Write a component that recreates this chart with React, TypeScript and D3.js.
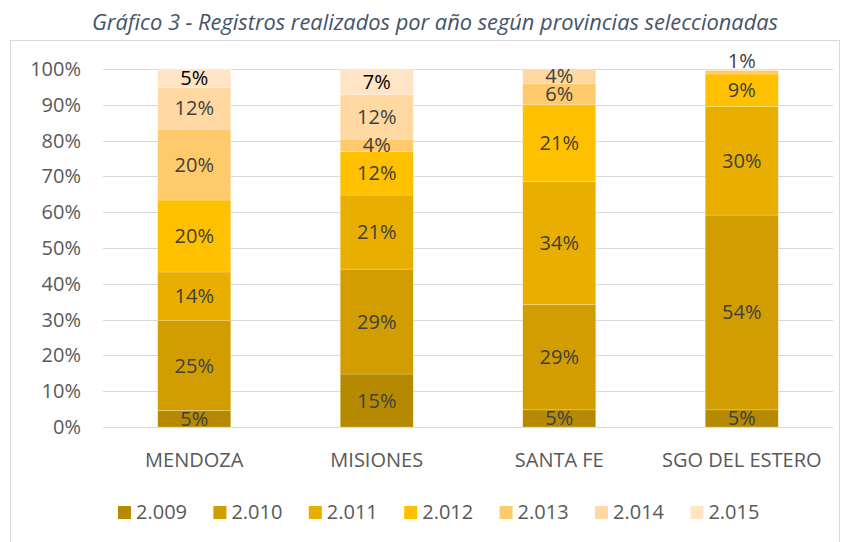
import React, { useRef, useEffect } from "react";
import * as d3 from "d3";

// provincias
const provinces = ["MENDOZA", "MISIONES", "SANTA FE", "SGO DEL ESTERO"];
const years = ["2.009", "2.010", "2.011", "2.012", "2.013", "2.014", "2.015"];

// share (%) per year, one array per province (2.009 -> 2.015)
const mendoza = [4.6, 25.1, 13.6, 20.1, 19.8, 11.6, 5.2];
const misiones = [14.8, 29.3, 20.7, 12.1, 3.5, 12.4, 7.2];
const santaFe = [4.8, 29.4, 34.4, 21.4, 6.0, 4.0, 0];
const sgoDelEstero = [4.8, 54.4, 30.3, 9.1, 1.0, 0.4, 0];

const yTicks = [0, 10, 20, 30, 40, 50, 60, 70, 80, 90, 100];
const colors = ["#B68A00", "#D19D00", "#E9AF00", "#FFC000", "#FFCA6C", "#FFD9A1", "#FFE5C6"];

const App = () => {
  const ref = useRef<SVGSVGElement | null>(null);

  useEffect(() => {
    if (!ref.current) return;
    const svg = d3.select(ref.current);
    svg.selectAll("*").remove();

    const font = "'Open Sans', sans-serif";
    const fs = "20px";
    const rows = [mendoza, misiones, santaFe, sgoDelEstero].map((vals, i) => {
      const r: any = { name: provinces[i] };
      years.forEach((y, j) => (r[y] = vals[j]));
      return r;
    });

    const margin = { top: 69, left: 103, right: 15, bottom: 115 };
    const width = 848 - margin.left - margin.right;
    const height = 542 - margin.top - margin.bottom;

    // chart frame
    svg
      .append("rect")
      .attr("x", 10.5)
      .attr("y", 40.5)
      .attr("width", 829)
      .attr("height", 540)
      .attr("fill", "#fff")
      .attr("stroke", "#D9D9D9");

    // title
    svg
      .append("text")
      .attr("x", 435)
      .attr("y", 30)
      .attr("text-anchor", "middle")
      .style("font-family", font)
      .style("font-style", "italic")
      .style("font-size", "22px")
      .attr("fill", "#44546A")
      .attr("textLength", 686)
      .attr("lengthAdjust", "spacingAndGlyphs")
      .text("Gráfico 3 - Registros realizados por año según provincias seleccionadas");

    const chart = svg
      .append("g")
      .attr("transform", `translate(${margin.left},${margin.top})`);

    const x = d3.scaleBand().domain(provinces).range([0, width]).paddingInner(0.6).paddingOuter(0.3);
    const y = d3.scaleLinear().domain([0, 100]).range([height, 0]);

    // gridlines
    chart
      .selectAll(".grid")
      .data(yTicks)
      .enter()
      .append("line")
      .attr("x1", 0)
      .attr("x2", width)
      .attr("y1", (d) => Math.round(y(d)) + 0.5)
      .attr("y2", (d) => Math.round(y(d)) + 0.5)
      .attr("stroke", "#D9D9D9")
      .attr("stroke-width", 1);

    // y tick labels
    chart
      .selectAll(".ytick")
      .data(yTicks)
      .enter()
      .append("text")
      .attr("x", -22)
      .attr("y", (d) => y(d))
      .attr("dy", "0.35em")
      .attr("text-anchor", "end")
      .style("font-family", font)
      .style("font-size", fs)
      .attr("fill", "#595959")
      .text((d) => d + "%");

    const series = d3.stack().keys(years)(rows);

    const layer = chart
      .selectAll(".layer")
      .data(series)
      .enter()
      .append("g")
      .attr("fill", (d, i) => colors[i]);

    layer
      .selectAll("rect")
      .data((d) => d)
      .enter()
      .append("rect")
      .attr("x", (d: any) => x(d.data.name)!)
      .attr("y", (d) => y(d[1]))
      .attr("width", x.bandwidth())
      .attr("height", (d) => y(d[0]) - y(d[1]))
      .attr("stroke", "#ffffff")
      .attr("stroke-opacity", 0.35)
      .attr("stroke-width", 0.6);

    // data labels
    series.forEach((s, i) => {
      s.forEach((d: any) => {
        const v = d[1] - d[0];
        if (Math.round(v) === 0) return;
        const h = y(d[0]) - y(d[1]);
        const cy = h < 8 ? y(d[1]) - 9 : (y(d[0]) + y(d[1])) / 2;
        chart
          .append("text")
          .attr("x", x(d.data.name)! + x.bandwidth() / 2)
          .attr("y", cy)
          .attr("dy", "0.35em")
          .attr("text-anchor", "middle")
          .style("font-family", font)
          .style("font-size", fs)
          .attr("fill", i === 6 ? "#000000" : "#404040")
          .text(Math.round(v) + "%");
      });
    });

    // category labels
    chart
      .selectAll(".cat")
      .data(provinces)
      .enter()
      .append("text")
      .attr("x", (d) => x(d)! + x.bandwidth() / 2)
      .attr("y", height + 33)
      .attr("dy", "0.35em")
      .attr("text-anchor", "middle")
      .style("font-family", font)
      .style("font-size", fs)
      .attr("fill", "#595959")
      .text((d) => d);

    // legend
    const legend = svg
      .selectAll(".legend")
      .data(years)
      .enter()
      .append("g")
      .attr("transform", (d, i) => `translate(${118 + i * 95.4},512)`);

    legend
      .append("rect")
      .attr("x", 0)
      .attr("y", -6)
      .attr("width", 13)
      .attr("height", 13)
      .attr("fill", (d, i) => colors[i]);

    legend
      .append("text")
      .attr("x", 18)
      .attr("y", 0)
      .attr("dy", "0.35em")
      .style("font-family", font)
      .style("font-size", fs)
      .attr("fill", "#595959")
      .text((d) => d);
  }, []);

  return (
    <svg
      ref={ref}
      width={848}
      height={542}
      style={{ position: "absolute", left: 0, top: 0, background: "#fff" }}
    />
  );
};

export default App;
